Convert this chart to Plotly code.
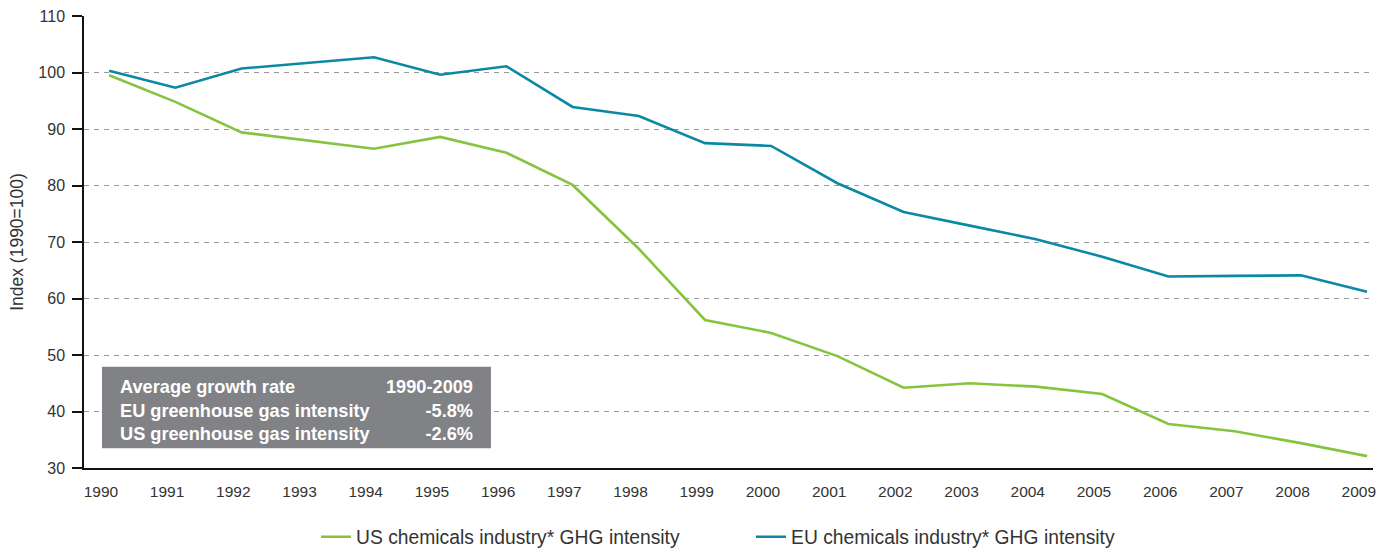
import plotly.graph_objects as go

# GHG intensity index of the chemicals industry (1990 = 100)
years = list(range(1990, 2010))
us_intensity = [99.5, 94.8, 89.4, 88.0, 86.5, 88.6, 85.8, 80.1, 68.8, 56.2,
                53.9, 49.8, 44.2, 45.0, 44.4, 43.1, 37.8, 36.5, 34.4, 32.1]
eu_intensity = [100.3, 97.3, 100.7, 101.7, 102.7, 99.6, 101.1, 93.9, 92.3, 87.5,
                87.0, 80.4, 75.3, 72.9, 70.5, 67.4, 63.9, 64.0, 64.1, 61.2]

series_names = ["US chemicals industry* GHG intensity",
                "EU chemicals industry* GHG intensity"]
series_colors = ["#86C440", "#0B89A4"]

# Summary table shown inside the chart
summary_labels = ["Average growth rate", "EU greenhouse gas intensity", "US greenhouse gas intensity"]
summary_values = ["1990-2009", "-5.8%", "-2.6%"]

y_ticks = list(range(30, 111, 10))
tick_shift = 0.125  # year labels sit slightly left of the data points

FONT = "Liberation Sans, Arial, sans-serif"

fig = go.Figure()
for name, vals, col in zip(series_names, [us_intensity, eu_intensity], series_colors):
    fig.add_trace(go.Scatter(
        x=years, y=vals, name=name, mode="lines",
        line=dict(color=col, width=2.6),
        hoverinfo="x+y",
    ))

fig.update_layout(
    width=1392, height=549,
    margin=dict(l=84, r=19, t=16, b=81, autoexpand=False),
    paper_bgcolor="white", plot_bgcolor="white",
    font=dict(family=FONT, color="#333333"),
    showlegend=True,
    legend=dict(
        orientation="h", x=0.18, xanchor="left", y=-0.153, yanchor="middle",
        font=dict(size=19.3, family=FONT, color="#333333"),
        entrywidth=390, entrywidthmode="pixels",
        bgcolor="rgba(0,0,0,0)",
    ),
    xaxis=dict(
        range=[1989.62, 2009.09],
        tickvals=[y - tick_shift for y in years],
        ticktext=[str(y) for y in years],
        showgrid=False, zeroline=False, automargin=False,
        showline=True, linecolor="#111111", linewidth=1.5,
        ticks="", ticklabelstandoff=9,
        tickfont=dict(size=15.5, family=FONT, color="#333333"),
    ),
    yaxis=dict(
        range=[30, 110], tickvals=y_ticks, automargin=False,
        showgrid=True, gridcolor="#9a9a9a", gridwidth=1, griddash="5px,5px",
        zeroline=False,
        showline=True, linecolor="#111111", linewidth=1.5,
        ticks="outside", ticklen=10, tickwidth=1.5, tickcolor="#111111",
        ticklabelstandoff=4,
        tickfont=dict(size=16, family=FONT, color="#333333"),
        title=dict(text="Index (1990=100)", standoff=10,
                   font=dict(size=17.5, family=FONT, color="#333333")),
    ),
)

# Grey summary box
fig.add_shape(type="rect", xref="paper", yref="y",
              x0=0.01396, x1=0.3157, y0=33.5, y1=47.9,
              fillcolor="#818285", line=dict(width=0), layer="above")
fig.add_annotation(xref="paper", yref="y", x=0.0264, y=40.1,
                   xanchor="left", yanchor="middle", align="left", showarrow=False,
                   text="<br>".join(f"<b>{s}</b>" for s in summary_labels),
                   font=dict(size=18.2, family=FONT, color="white"))
fig.add_annotation(xref="paper", yref="y", x=0.3033, y=40.1,
                   xanchor="right", yanchor="middle", align="right", showarrow=False,
                   text="<br>".join(f"<b>{s}</b>" for s in summary_values),
                   font=dict(size=18.2, family=FONT, color="white"))

fig.write_html("out.html")
